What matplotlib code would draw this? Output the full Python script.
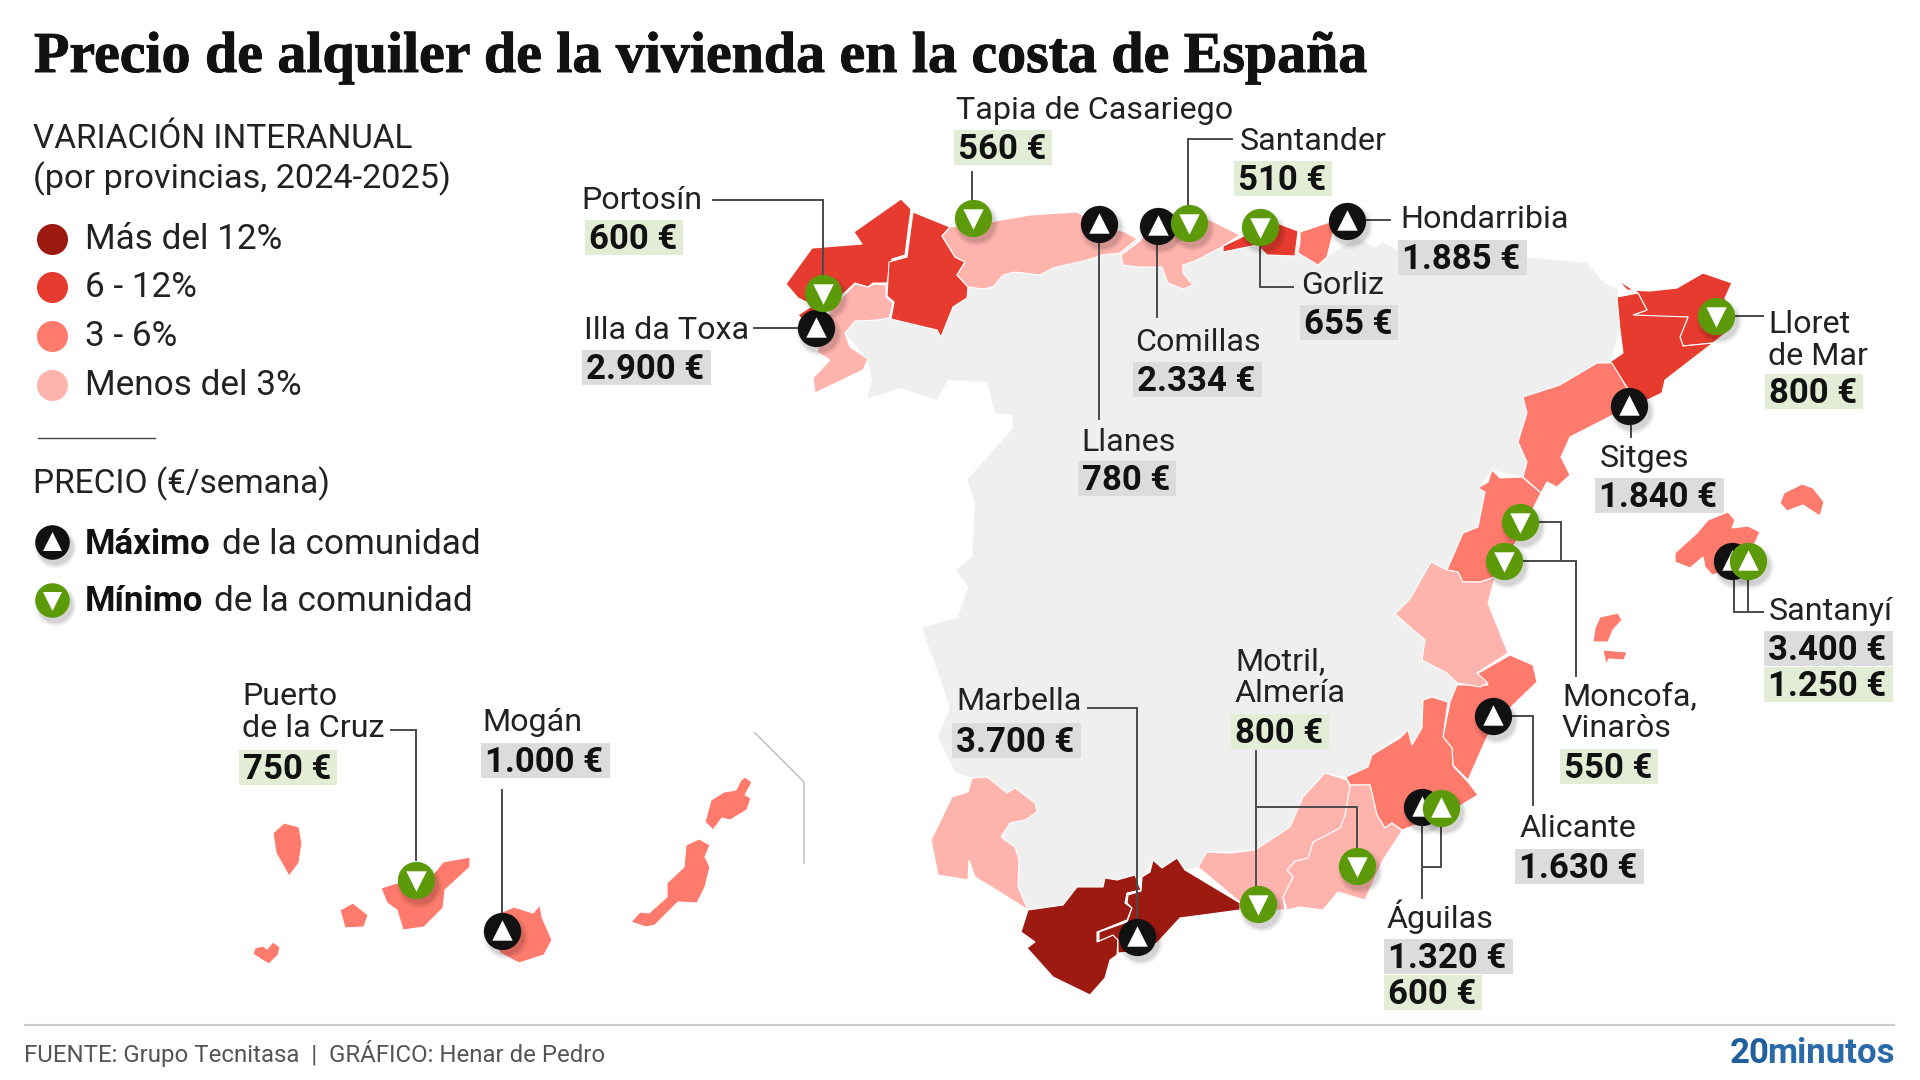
import matplotlib
matplotlib.use('Agg')
import matplotlib.pyplot as plt
import matplotlib.patheffects as pe
from matplotlib.patches import Rectangle

plt.rcParams['font.family'] = ['Roboto', 'DejaVu Sans']

# colour class of each variation band
band_labels = ['Más del 12%', '6 - 12%', '3 - 6%', 'Menos del 3%']
band_colors = ['#9d1a11', '#e63b2e', '#fe7a6c', '#ffb3ad']

# province outlines, (x, y) in picture pixels
spain = [(855, 321), (900, 290), (950, 280), (1000, 260), (1100, 235), (1130, 240), (1190, 255), (1228, 248),
         (1300, 245), (1327, 257), (1357, 237), (1375, 248), (1383, 242), (1397, 250), (1460, 262), (1533, 258),
         (1587, 263), (1603, 282), (1618, 290), (1617, 297), (1620, 330), (1610, 362), (1597, 363), (1560, 385),
         (1523, 397), (1527, 413), (1518, 442), (1527, 462), (1523, 477), (1492, 470), (1478, 488), (1485, 492),
         (1478, 527), (1463, 533), (1447, 570), (1431, 562), (1410, 599), (1395, 614), (1425, 640), (1422, 660),
         (1447, 673), (1457, 683), (1450, 702), (1432, 697), (1423, 700), (1422, 728), (1412, 745), (1408, 730),
         (1372, 755), (1368, 767), (1346, 777), (1325, 773), (1303, 797), (1290, 827), (1255, 850), (1207, 852),
         (1198, 867), (1185, 870), (1177, 858), (1162, 868), (1153, 860), (1142, 877), (1117, 880), (1105, 878),
         (1103, 887), (1077, 887), (1063, 905), (1028, 910), (1018, 887), (1019, 860), (1015, 847), (1001, 837),
         (1010, 823), (1037, 812), (1035, 803), (1015, 788), (1007, 793), (987, 777), (972, 778), (955, 772),
         (938, 737), (950, 708), (922, 627), (958, 618), (968, 587), (956, 570), (972, 557), (975, 502), (967, 480),
         (1013, 428), (1012, 415), (995, 413), (987, 382), (948, 380), (937, 400), (900, 388), (880, 395),
         (867, 398), (872, 380), (868, 360), (845, 333)]
coruna = [(901, 199), (911, 209), (905, 255), (892, 259), (887, 283), (873, 283), (868, 287), (855, 283), (842, 295),
          (823, 310), (798, 298), (786, 284), (812, 248), (862, 244), (854, 232)]
toxa = [(798, 315), (812, 306), (825, 315), (810, 328)]
lugo = [(913, 212), (950, 227), (942, 236), (955, 257), (965, 262), (957, 275), (968, 287), (967, 298), (953, 307),
        (941, 337), (937, 330), (891, 319), (894, 302), (887, 296), (889, 262), (907, 257)]
pontevedra = [(855, 284), (868, 287), (874, 284), (886, 285), (886, 297), (893, 303), (889, 318), (877, 320),
              (855, 321), (845, 333), (850, 347), (868, 359), (863, 370), (815, 393), (813, 378), (830, 360),
              (817, 352), (830, 310)]
asturias = [(950, 227), (990, 222), (1030, 215), (1077, 212), (1100, 225), (1125, 232), (1137, 239), (1120, 253),
            (1103, 255), (1087, 260), (1053, 268), (1040, 275), (1015, 272), (1003, 275), (993, 287), (983, 289),
            (968, 287), (957, 275), (965, 262), (955, 257), (942, 236)]
cantabria = [(1140, 241), (1121, 255), (1123, 265), (1138, 267), (1162, 267), (1168, 283), (1183, 289), (1193, 285),
             (1183, 273), (1183, 265), (1197, 260), (1220, 248), (1240, 235), (1210, 220), (1173, 213), (1158, 213)]
bizkaia = [(1223, 246), (1240, 238), (1260, 227), (1277, 223), (1298, 231), (1295, 256), (1267, 255), (1257, 245),
           (1223, 252)]
gipuzkoa = [(1300, 232), (1330, 222), (1343, 227), (1333, 233), (1327, 257), (1318, 265), (1298, 253), (1300, 242)]
girona = [(1618, 280), (1627, 290), (1650, 291), (1677, 288), (1703, 273), (1732, 283), (1725, 298), (1732, 328),
          (1713, 343), (1683, 346), (1680, 337), (1688, 317), (1670, 317), (1633, 315), (1647, 310), (1638, 293)]
barcelona = [(1617, 297), (1638, 293), (1647, 310), (1633, 315), (1688, 317), (1680, 337), (1683, 346), (1713, 343),
             (1665, 380), (1662, 393), (1637, 405), (1627, 387), (1610, 362), (1623, 353), (1620, 330)]
tarragona = [(1612, 363), (1627, 388), (1635, 404), (1613, 415), (1570, 437), (1561, 457), (1570, 475), (1557, 487),
             (1547, 482), (1541, 493), (1523, 477), (1527, 462), (1518, 442), (1527, 413), (1523, 397), (1560, 385),
             (1597, 363)]
castellon = [(1492, 470), (1500, 478), (1522, 477), (1541, 493), (1517, 540), (1495, 577), (1480, 582), (1463, 582),
             (1458, 572), (1447, 570), (1463, 533), (1478, 527), (1485, 492), (1478, 488), (1488, 482)]
valencia = [(1431, 562), (1447, 570), (1458, 572), (1463, 582), (1480, 582), (1495, 577), (1488, 603), (1508, 653),
            (1477, 673), (1488, 683), (1480, 687), (1457, 683), (1447, 673), (1422, 660), (1425, 640), (1395, 614),
            (1410, 599)]
alicante = [(1510, 655), (1533, 665), (1537, 682), (1510, 708), (1487, 737), (1468, 780), (1453, 765), (1452, 748),
            (1443, 737), (1450, 702), (1457, 685), (1488, 685), (1475, 675)]
murcia = [(1448, 702), (1443, 737), (1452, 748), (1453, 766), (1468, 782), (1478, 795), (1458, 807), (1437, 817),
          (1402, 830), (1392, 823), (1385, 828), (1377, 815), (1370, 785), (1350, 785), (1346, 777), (1368, 767),
          (1372, 755), (1400, 738), (1408, 730), (1412, 745), (1422, 728), (1423, 700), (1432, 697)]
almeria = [(1350, 785), (1370, 785), (1377, 815), (1385, 828), (1392, 823), (1402, 831), (1383, 860), (1365, 900),
           (1338, 892), (1323, 910), (1300, 907), (1287, 910), (1283, 897), (1293, 877), (1287, 870), (1295, 861),
           (1308, 858), (1313, 842), (1340, 828), (1345, 815)]
granada = [(1325, 773), (1347, 780), (1350, 786), (1345, 815), (1340, 828), (1313, 842), (1308, 858), (1295, 861),
           (1287, 870), (1293, 877), (1283, 897), (1285, 910), (1257, 910), (1240, 902), (1198, 867), (1207, 852),
           (1230, 853), (1255, 850), (1290, 827), (1303, 797)]
cadiz = [(1028, 910), (1063, 905), (1077, 887), (1103, 887), (1105, 878), (1117, 880), (1135, 875), (1141, 890),
         (1127, 893), (1125, 903), (1132, 908), (1127, 920), (1097, 932), (1097, 942), (1113, 935), (1118, 940),
         (1117, 955), (1110, 960), (1105, 978), (1090, 995), (1053, 977), (1027, 948), (1035, 942), (1021, 932)]
malaga = [(1142, 877), (1150, 872), (1153, 860), (1162, 868), (1177, 858), (1185, 870), (1240, 903), (1240, 910),
          (1180, 918), (1157, 943), (1133, 952), (1118, 953), (1118, 940), (1113, 935), (1099, 941), (1099, 932),
          (1127, 922), (1132, 908), (1127, 903), (1128, 895), (1141, 891)]
huelva = [(972, 778), (987, 777), (1007, 793), (1015, 788), (1035, 803), (1037, 812), (1025, 820), (1010, 823),
          (1001, 837), (1015, 847), (1019, 860), (1018, 887), (1028, 910), (1017, 903), (993, 888), (975, 877),
          (969, 860), (968, 880), (938, 875), (931, 840), (952, 797), (968, 792)]
mallorca = [(1728, 512), (1735, 520), (1732, 528), (1748, 526), (1760, 532), (1755, 543), (1740, 567), (1712, 575),
            (1705, 567), (1703, 557), (1690, 568), (1675, 562), (1675, 553), (1697, 533), (1708, 520)]
menorca = [(1802, 484), (1813, 488), (1824, 502), (1820, 516), (1803, 505), (1787, 511), (1780, 503), (1784, 493)]
ibiza = [(1618, 613), (1622, 620), (1613, 630), (1608, 642), (1593, 642), (1595, 628), (1600, 617)]
formentera = [(1603, 650), (1627, 652), (1624, 660), (1609, 659), (1606, 664)]
la_palma = [(284, 823), (299, 827), (302, 843), (299, 863), (289, 876), (276, 853), (273, 833)]
tenerife = [(470, 857), (470, 867), (445, 890), (443, 908), (424, 927), (403, 930), (397, 910), (387, 903), (381, 888),
            (397, 883), (431, 877), (443, 862)]
gomera = [(353, 903), (368, 915), (364, 927), (345, 928), (340, 910)]
hierro = [(273, 942), (280, 947), (278, 955), (269, 964), (262, 960), (253, 954), (255, 948), (263, 946), (267, 949)]
gran_canaria = [(514, 907), (533, 913), (540, 905), (542, 917), (552, 940), (544, 955), (519, 963), (500, 953),
                (489, 927), (500, 913)]
fuerteventura = [(699, 839), (710, 845), (705, 857), (710, 867), (705, 887), (697, 903), (678, 902), (655, 925),
                 (646, 927), (631, 922), (640, 912), (649, 913), (667, 897), (667, 883), (684, 867), (686, 845)]
lanzarote = [(745, 777), (752, 782), (745, 795), (751, 798), (747, 810), (730, 820), (722, 818), (713, 830),
             (705, 822), (711, 800), (724, 792), (736, 790), (741, 780)]

# provinces in each band, index into band_colors
band_provinces = [
    [cadiz, malaga],
    [coruna, toxa, lugo, bizkaia, girona, barcelona],
    [gipuzkoa, tarragona, castellon, alicante, murcia, mallorca, menorca, ibiza, formentera,
     la_palma, tenerife, gomera, hierro, gran_canaria, fuerteventura, lanzarote],
    [pontevedra, asturias, cantabria, valencia, almeria, granada, huelva],
]

# towns: name lines and price rows
town_names = ['Portosín', 'Illa da Toxa', 'Tapia de Casariego', 'Santander', 'Hondarribia', 'Gorliz', 'Comillas',
              'Llanes', 'Lloret\nde Mar', 'Sitges', 'Moncofa,\nVinaròs', 'Santanyí', 'Alicante', 'Águilas',
              'Motril,\nAlmería', 'Marbella', 'Puerto\nde la Cruz', 'Mogán']
town_prices = [['600 €'], ['2.900 €'], ['560 €'], ['510 €'], ['1.885 €'], ['655 €'], ['2.334 €'], ['780 €'],
               ['800 €'], ['1.840 €'], ['550 €'], ['3.400 €', '1.250 €'], ['1.630 €'], ['1.320 €', '600 €'],
               ['800 €'], ['3.700 €'], ['750 €'], ['1.000 €']]
town_kinds = [['min'], ['max'], ['min'], ['min'], ['max'], ['max'], ['max'], ['max'],
              ['min'], ['max'], ['min'], ['max', 'min'], ['max'], ['max', 'min'],
              ['min'], ['max'], ['min'], ['max']]

# marker sites on the map
site_kinds = ['max', 'max', 'min', 'max', 'min', 'min', 'max', 'min', 'min', 'max', 'min', 'min', 'max', 'min',
              'max', 'max', 'min', 'min', 'min', 'max', 'min', 'max']
# Santanyí and Águilas carry an upward arrow on the green marker as well
site_arrows = ['^', '^', 'v', '^', 'v', 'v', '^', 'v', 'v', '^', 'v', 'v', '^', '^',
               '^', '^', '^', 'v', 'v', '^', 'v', '^']
site_x = [816, 1099, 823, 1158, 973, 1189, 1347, 1260, 1716, 1629, 1520, 1504, 1732, 1748,
          1493, 1422, 1441, 1357, 1258, 1137, 416, 502]
site_y = [328, 224, 293, 226, 218, 223, 221, 227, 316, 406, 522, 561, 561, 561,
          716, 807, 808, 866, 904, 937, 880, 931]

# leader lines from the labels to the sites
leaders = [
    [(713, 200), (823, 200), (823, 280)],
    [(754, 328), (798, 328)],
    [(972, 172), (972, 200)],
    [(1232, 139), (1188, 139), (1188, 207)],
    [(1363, 220), (1390, 220)],
    [(1260, 245), (1260, 287), (1293, 287)],
    [(1157, 242), (1157, 317)],
    [(1099, 242), (1099, 419)],
    [(1735, 316), (1763, 316)],
    [(1631, 423), (1631, 437)],
    [(1538, 522), (1561, 522), (1561, 561)],
    [(1522, 561), (1576, 561), (1576, 676)],
    [(1734, 578), (1734, 612), (1763, 612)],
    [(1748, 578), (1748, 612)],
    [(1512, 716), (1533, 716), (1533, 805)],
    [(1422, 825), (1422, 898)],
    [(1441, 825), (1441, 867), (1423, 867)],
    [(1256, 751), (1256, 888)],
    [(1256, 807), (1357, 807), (1357, 850)],
    [(1088, 708), (1137, 708), (1137, 920)],
    [(391, 730), (416, 730), (416, 860)],
    [(502, 790), (502, 914)],
]

# label layout: text left, first name baseline, box left, box top
label_x = [581, 584, 956, 1240, 1400, 1301, 1135, 1081, 1768, 1600, 1562, 1769, 1520, 1387, 1235, 956, 242, 482]
label_y = [209, 339, 119, 150, 228, 294, 351, 451, 333, 467, 705, 620, 837, 928, 670, 710, 705, 731]
box_left = [585, 582, 954, 1234, 1398, 1300, 1133, 1078, 1765, 1595, 1560, 1764, 1515, 1384, 1231, 952, 239, 481]
box_top = [220, 350, 130, 161, 240, 305, 362, 461, 374, 478, 749, 631, 849, 939, 714, 723, 750, 743]
box_h = 35
row_h = 36
line_h = 32

box_colors = {'max': '#dcdcdc', 'min': '#e3ecd5'}
marker_colors = {'max': '#111111', 'min': '#5c9a0a'}


def draw_marker(ax, x, y, kind, arrow, size=720, zorder=6):
    # soft shadow first
    for grow, a in [(1.5, 0.04), (1.25, 0.06), (1.05, 0.08)]:
        ax.scatter(x + 3, y + 5, s=size * grow, c='#000000', alpha=a, linewidths=0, zorder=zorder)
    ax.scatter(x, y, s=size, c=marker_colors[kind], linewidths=0, zorder=zorder)
    ax.scatter(x, y - 1 if arrow == '^' else y + 1, s=size * 0.3, c='white', marker=arrow, linewidths=0,
               zorder=zorder)


def main():
    fig = plt.figure(figsize=(19.2, 10.8), dpi=100)
    ax = fig.add_axes([0, 0, 1, 1])
    ax.set_xlim(0, 1920)
    ax.set_ylim(1080, 0)
    ax.axis('off')

    # map
    ax.fill(*zip(*spain), color='#efefef', linewidth=0, zorder=1)
    for color, provinces in zip(band_colors, band_provinces):
        for province in provinces:
            ax.fill(*zip(*province), facecolor=color, edgecolor='white', linewidth=0.8, zorder=2)
    ax.plot([755, 804, 804], [733, 782, 863], color='#bbbbbb', linewidth=1.0, zorder=2)

    # title, a touch of stroke to get the weight of the original face
    ax.text(34, 72, 'Precio de alquiler de la vivienda en la costa de España', family='Liberation Serif',
            fontsize=41.7, fontweight='bold', color='#111111', va='baseline',
            path_effects=[pe.withStroke(linewidth=0.7, foreground='#111111')])

    # legend
    ax.text(33, 148, 'VARIACIÓN INTERANUAL', fontsize=24, color='#222222', va='baseline')
    ax.text(33, 188, '(por provincias, 2024-2025)', fontsize=24.7, color='#222222', va='baseline')
    band_y = [239, 287, 336, 385]
    for y, label, color in zip(band_y, band_labels, band_colors):
        ax.scatter(52, y, s=500, c=color, linewidths=0)
        ax.text(85, y + 10, label, fontsize=25.3, color='#222222', va='baseline')
    ax.plot([38, 155], [438, 438], color='#444444', linewidth=1.0)
    ax.text(33, 493, 'PRECIO (€/semana)', fontsize=24, color='#222222', va='baseline')
    draw_marker(ax, 52, 542, 'max', '^', size=620)
    ax.text(85, 554, 'Máximo', fontsize=25, fontweight='bold', color='#111111', va='baseline')
    ax.text(222, 554, 'de la comunidad', fontsize=25.3, color='#222222', va='baseline')
    draw_marker(ax, 52, 600, 'min', 'v', size=620)
    ax.text(85, 611, 'Mínimo', fontsize=25, fontweight='bold', color='#111111', va='baseline')
    ax.text(214, 611, 'de la comunidad', fontsize=25.3, color='#222222', va='baseline')

    # leaders under the markers
    for line in leaders:
        ax.plot(*zip(*line), color='#4a4a4a', linewidth=1.4, solid_joinstyle='miter', zorder=4)

    # town labels with their price boxes
    for i, name in enumerate(town_names):
        for j, part in enumerate(name.split('\n')):
            ax.text(label_x[i], label_y[i] + j * line_h, part, fontsize=23.2, color='#222222', va='baseline', zorder=7)
        for j, (price, kind) in enumerate(zip(town_prices[i], town_kinds[i])):
            top = box_top[i] + j * row_h
            # short prices get the narrow box
            width = 98 if len(price) == 5 else 129
            ax.add_patch(Rectangle((box_left[i], top), width, box_h, facecolor=box_colors[kind], linewidth=0,
                                   zorder=5))
            ax.text(box_left[i] + 4, top + box_h - 6, price, fontsize=25, fontweight='bold', color='#111111',
                    va='baseline', zorder=7)

    # markers
    for kind, arrow, x, y in zip(site_kinds, site_arrows, site_x, site_y):
        draw_marker(ax, x, y, kind, arrow)

    # footer
    ax.plot([25, 1894], [1025, 1025], color='#cccccc', linewidth=1.6)
    ax.text(24, 1062, 'FUENTE: Grupo Tecnitasa  |  GRÁFICO: Henar de Pedro', fontsize=17.25, color='#555555',
            va='baseline')
    ax.text(1730, 1063, '20', fontsize=25, fontweight='bold', color='#1f5f9e', va='baseline')
    ax.text(1895, 1063, 'minutos', fontsize=25, fontweight='bold', color='#2a6aa8', va='baseline', ha='right')

    fig.savefig('out.png', dpi=100)


if __name__ == '__main__':
    main()
